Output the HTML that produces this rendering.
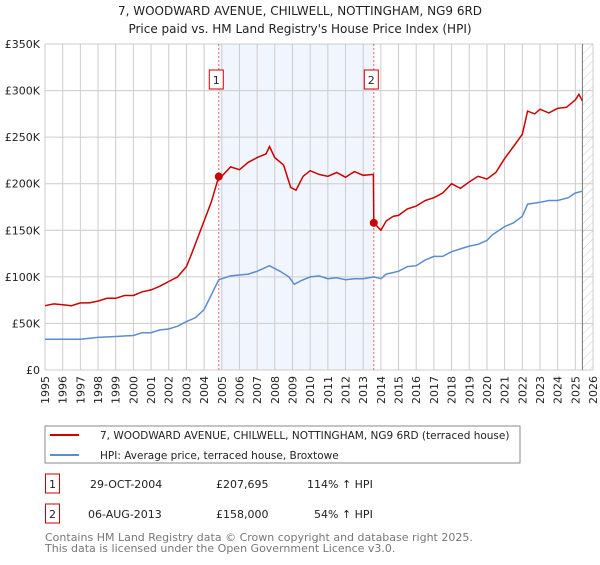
<!DOCTYPE html>
<html><head><meta charset="utf-8"><style>
body{margin:0;background:#fff;font-family:"Liberation Sans","DejaVu Sans",sans-serif;}
svg text{font-family:"DejaVu Sans","Liberation Sans",sans-serif;}
</style></head><body>
<svg id="chart" width="600" height="560" xmlns="http://www.w3.org/2000/svg">
<defs><pattern id="hatch" width="6" height="6" patternUnits="userSpaceOnUse" patternTransform="rotate(45)"><line x1="0" y1="0" x2="0" y2="6" stroke="#ccc" stroke-width="1"/></pattern></defs>
<text x="300" y="15" text-anchor="middle" font-size="12" fill="#222">7, WOODWARD AVENUE, CHILWELL, NOTTINGHAM, NG9 6RD</text>
<text x="300" y="33" text-anchor="middle" font-size="12" fill="#222">Price paid vs. HM Land Registry's House Price Index (HPI)</text>
<g id="grid"></g><g id="marks"></g><g id="axes"></g>
<rect x="45" y="426" width="475" height="37" fill="none" stroke="#888"/>
<line x1="50" y1="435" x2="79" y2="435" stroke="#cc0000" stroke-width="2"/>
<text x="100" y="439" font-size="10.5" fill="#222">7, WOODWARD AVENUE, CHILWELL, NOTTINGHAM, NG9 6RD (terraced house)</text>
<line x1="50" y1="455" x2="79" y2="455" stroke="#5b8cd0" stroke-width="2"/>
<text x="100" y="459" font-size="10.5" fill="#222">HPI: Average price, terraced house, Broxtowe</text>
<rect x="45.5" y="474" width="14" height="19" fill="none" stroke="#cc0000"/>
<text x="52.5" y="488" text-anchor="middle" font-size="11" fill="#222">1</text>
<text x="90" y="488" font-size="11" fill="#222">29-OCT-2004</text>
<text x="216" y="488" font-size="11" fill="#222">£207,695</text>
<text x="307" y="488" font-size="11" fill="#222">114% ↑ HPI</text>
<rect x="45.5" y="504" width="14" height="19" fill="none" stroke="#cc0000"/>
<text x="52.5" y="518" text-anchor="middle" font-size="11" fill="#222">2</text>
<text x="88" y="518" font-size="11" fill="#222">06-AUG-2013</text>
<text x="216" y="518" font-size="11" fill="#222">£158,000</text>
<text x="314" y="518" font-size="11" fill="#222">54% ↑ HPI</text>
<text x="45" y="541" font-size="11" fill="#777">Contains HM Land Registry data © Crown copyright and database right 2025.</text>
<text x="45" y="552" font-size="11" fill="#777">This data is licensed under the Open Government Licence v3.0.</text>
</svg>
<script>
const yTicks=[0,50,100,150,200,250,300,350];
const yearTicks=[1995,1996,1997,1998,1999,2000,2001,2002,2003,2004,2005,2006,2007,2008,2009,2010,2011,2012,2013,2014,2015,2016,2017,2018,2019,2020,2021,2022,2023,2024,2025,2026];
const propT=[1995,1995.5,1996,1996.5,1997,1997.5,1998,1998.5,1999,1999.5,2000,2000.5,2001,2001.5,2002,2002.5,2003,2003.3,2003.6,2004,2004.4,2004.83,2005,2005.5,2006,2006.5,2007,2007.5,2007.7,2008,2008.5,2008.9,2009.2,2009.6,2010,2010.5,2011,2011.5,2012,2012.5,2013,2013.58,2013.6,2014,2014.3,2014.7,2015,2015.5,2016,2016.5,2017,2017.5,2018,2018.5,2019,2019.5,2020,2020.5,2021,2021.5,2022,2022.3,2022.7,2023,2023.5,2024,2024.5,2025,2025.2,2025.4];
const propV=[69,71,70,69,72,72,74,77,77,80,80,84,86,90,95,100,111,125,140,160,180,207.7,208,218,215,223,228,232,240,228,220,196,193,208,214,210,208,212,207,213,209,210,158,150,160,165,166,173,176,182,185,190,200,195,202,208,205,212,227,240,253,278,275,280,276,281,282,290,296,289];
const hpiT=[1995,1996,1997,1998,1999,2000,2000.5,2001,2001.5,2002,2002.5,2003,2003.5,2004,2004.83,2005.5,2006,2006.5,2007,2007.7,2008.3,2008.8,2009.1,2009.5,2010,2010.5,2011,2011.5,2012,2012.5,2013,2013.6,2014,2014.3,2015,2015.5,2016,2016.5,2017,2017.5,2018,2018.5,2019,2019.5,2020,2020.3,2021,2021.5,2022,2022.3,2023,2023.5,2024,2024.6,2025,2025.4];
const hpiV=[33,33,33,35,36,37,40,40,43,44,47,52,56,65,97,101,102,103,106,112,106,100,92,96,100,101,98,99,97,98,98,100,98,103,106,111,112,118,122,122,127,130,133,135,139,145,154,158,165,178,180,182,182,185,190,192];
const sales=[[2004.83,207.7],[2013.6,158]];
const NS="http://www.w3.org/2000/svg";
const X0=45,X1=593,Y0=370,Y1=44;
const xs=t=>X0+(t-1995)*(X1-X0)/31;
const ys=v=>Y0-v*(Y0-Y1)/350;
function el(tag,attrs,parent){const e=document.createElementNS(NS,tag);for(const k in attrs)e.setAttribute(k,attrs[k]);document.getElementById(parent).appendChild(e);return e;}
// shade
let sh=el('rect',{x:xs(sales[0][0]),y:Y1,width:xs(sales[1][0])-xs(sales[0][0]),height:Y0-Y1,fill:'#eef3fd',opacity:0.8},'grid');


let ht=el('rect',{x:xs(2025.4),y:Y1,width:X1-xs(2025.4),height:Y0-Y1,fill:'url(#hatch)'},'grid');


yearTicks.forEach(y=>{const l=el('line',{x1:xs(y),x2:xs(y),y1:Y1,y2:Y0,stroke:'#ccc'},'grid');


const t=el('text',{x:0,y:0,transform:`translate(${xs(y)+4},376) rotate(-90)`,'text-anchor':'end','font-size':'11',fill:'#222'},'axes');t.textContent=y;

});
yTicks.forEach(v=>{const l=el('line',{x1:X0,x2:X1,y1:ys(v),y2:ys(v),stroke:'#ccc'},'grid');


const t=el('text',{x:40,y:ys(v)+4,'text-anchor':'end','font-size':'11',fill:'#222'},'axes');t.textContent=v===0?'£0':'£'+v+'K';

});
let cl=el('line',{x1:xs(2025.4),x2:xs(2025.4),y1:Y1,y2:Y0,stroke:'#777'},'grid');


sales.forEach((s,i)=>{const l=el('line',{x1:xs(s[0]),x2:xs(s[0]),y1:Y1,y2:Y0,stroke:'#f06060','stroke-dasharray':'2,2'},'grid');


const r=el('rect',{x:xs(s[0])-9.5,y:70,width:14,height:19,fill:'#fff',stroke:'#cc0000'},'marks');


const t=el('text',{x:xs(s[0])-2.5,y:84,'text-anchor':'middle','font-size':'11',fill:'#222'},'marks');t.textContent=i+1;

});
const path=(T,V)=>T.map((t,i)=>(i?'L':'M')+xs(t).toFixed(1)+','+ys(V[i]).toFixed(1)).join('');
let hp=el('path',{d:path(hpiT,hpiV),fill:'none',stroke:'#5b8cd0','stroke-width':1.5},'marks');


let pp=el('path',{d:path(propT,propV),fill:'none',stroke:'#cc0000','stroke-width':1.5},'marks');


sales.forEach(s=>{const c=el('circle',{cx:xs(s[0]),cy:ys(s[1]),r:4,fill:'#cc0000'},'marks');

});
</script>
</body></html>
